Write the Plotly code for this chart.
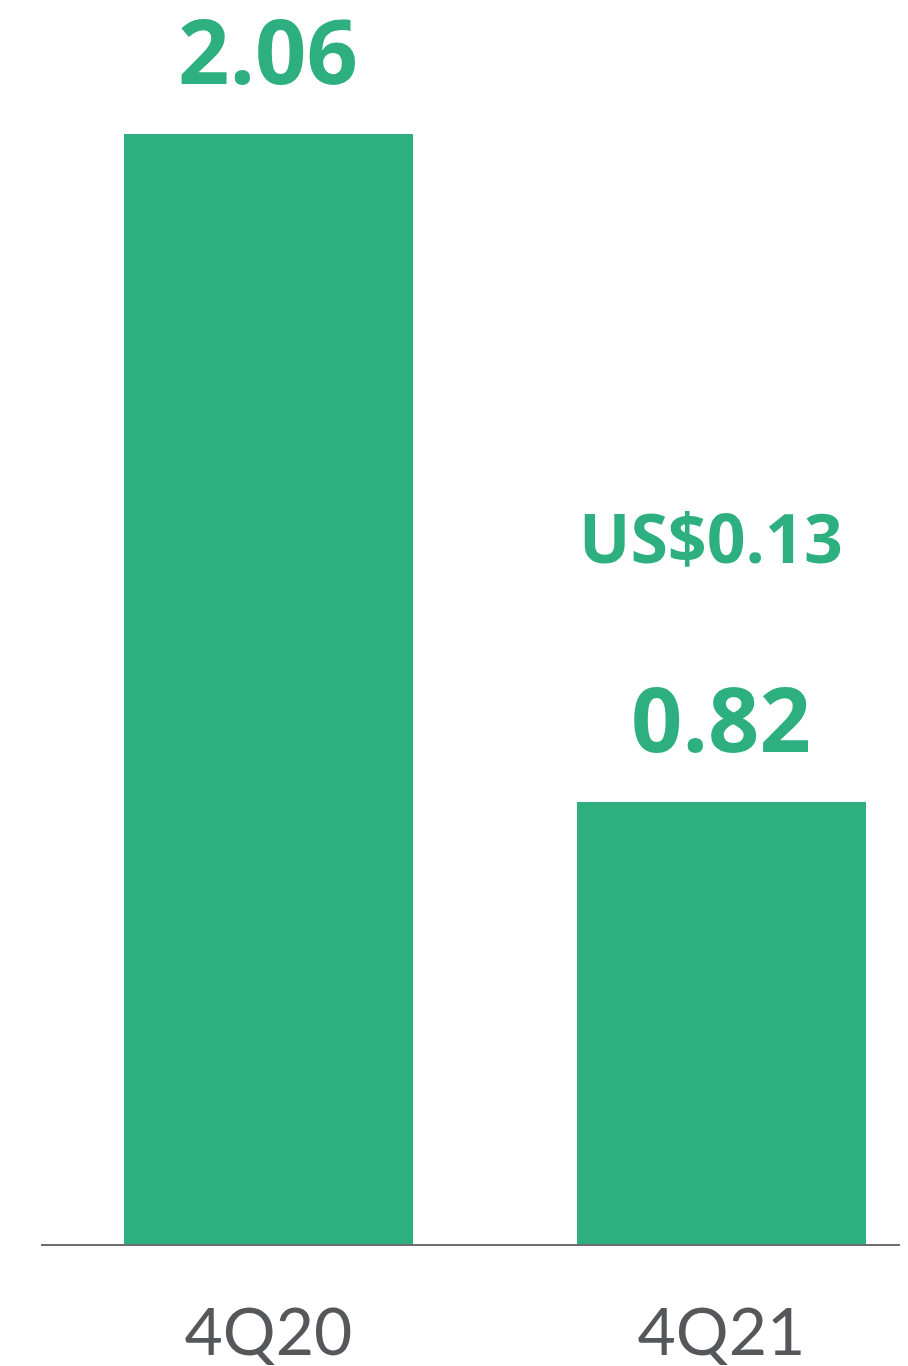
import plotly.graph_objects as go

categories = ["4Q20", "4Q21"]
values = [2.06, 0.82]
value_labels = ["2.06", "0.82"]
note_label = "US$0.13"

GREEN = "#2EAF80"
GRAY = "#55575A"

fig = go.Figure()
fig.add_trace(go.Bar(
    x=categories, y=values, marker=dict(color=GREEN, line=dict(width=0)),
    width=0.638, hoverinfo="skip",
))

for c, v, t in zip(categories, values, value_labels):
    fig.add_annotation(x=c, y=v, text=t, showarrow=False, yanchor="bottom", yshift=22,
                       font=dict(family="Open Sans", size=90, color=GREEN, weight=700))

fig.add_annotation(x=categories[1], y=values[1], text=note_label, showarrow=False,
                   yanchor="bottom", yshift=217, xshift=-10,
                   font=dict(family="Open Sans", size=68, color=GREEN, weight=700))

# page body has an 8px margin, so the figure starts 8px in from the window edge
fig.update_layout(
    width=900, height=1358,
    margin=dict(l=33, r=0, t=0, b=122),
    paper_bgcolor="white", plot_bgcolor="white",
    showlegend=False,
    bargap=0,
)
fig.update_xaxes(
    type="category", range=[-0.502, 1.412], automargin=False,
    showline=True, linecolor="#6D6E71", linewidth=2,
    showgrid=False, zeroline=False,
    ticks="outside", ticklen=30, tickcolor="rgba(0,0,0,0)",
    tickfont=dict(family="Lato", size=66, color=GRAY),
)
fig.update_yaxes(range=[0, 2.2939], visible=False, showgrid=False, zeroline=False,
                 automargin=False)

fig.write_html("out.html")
